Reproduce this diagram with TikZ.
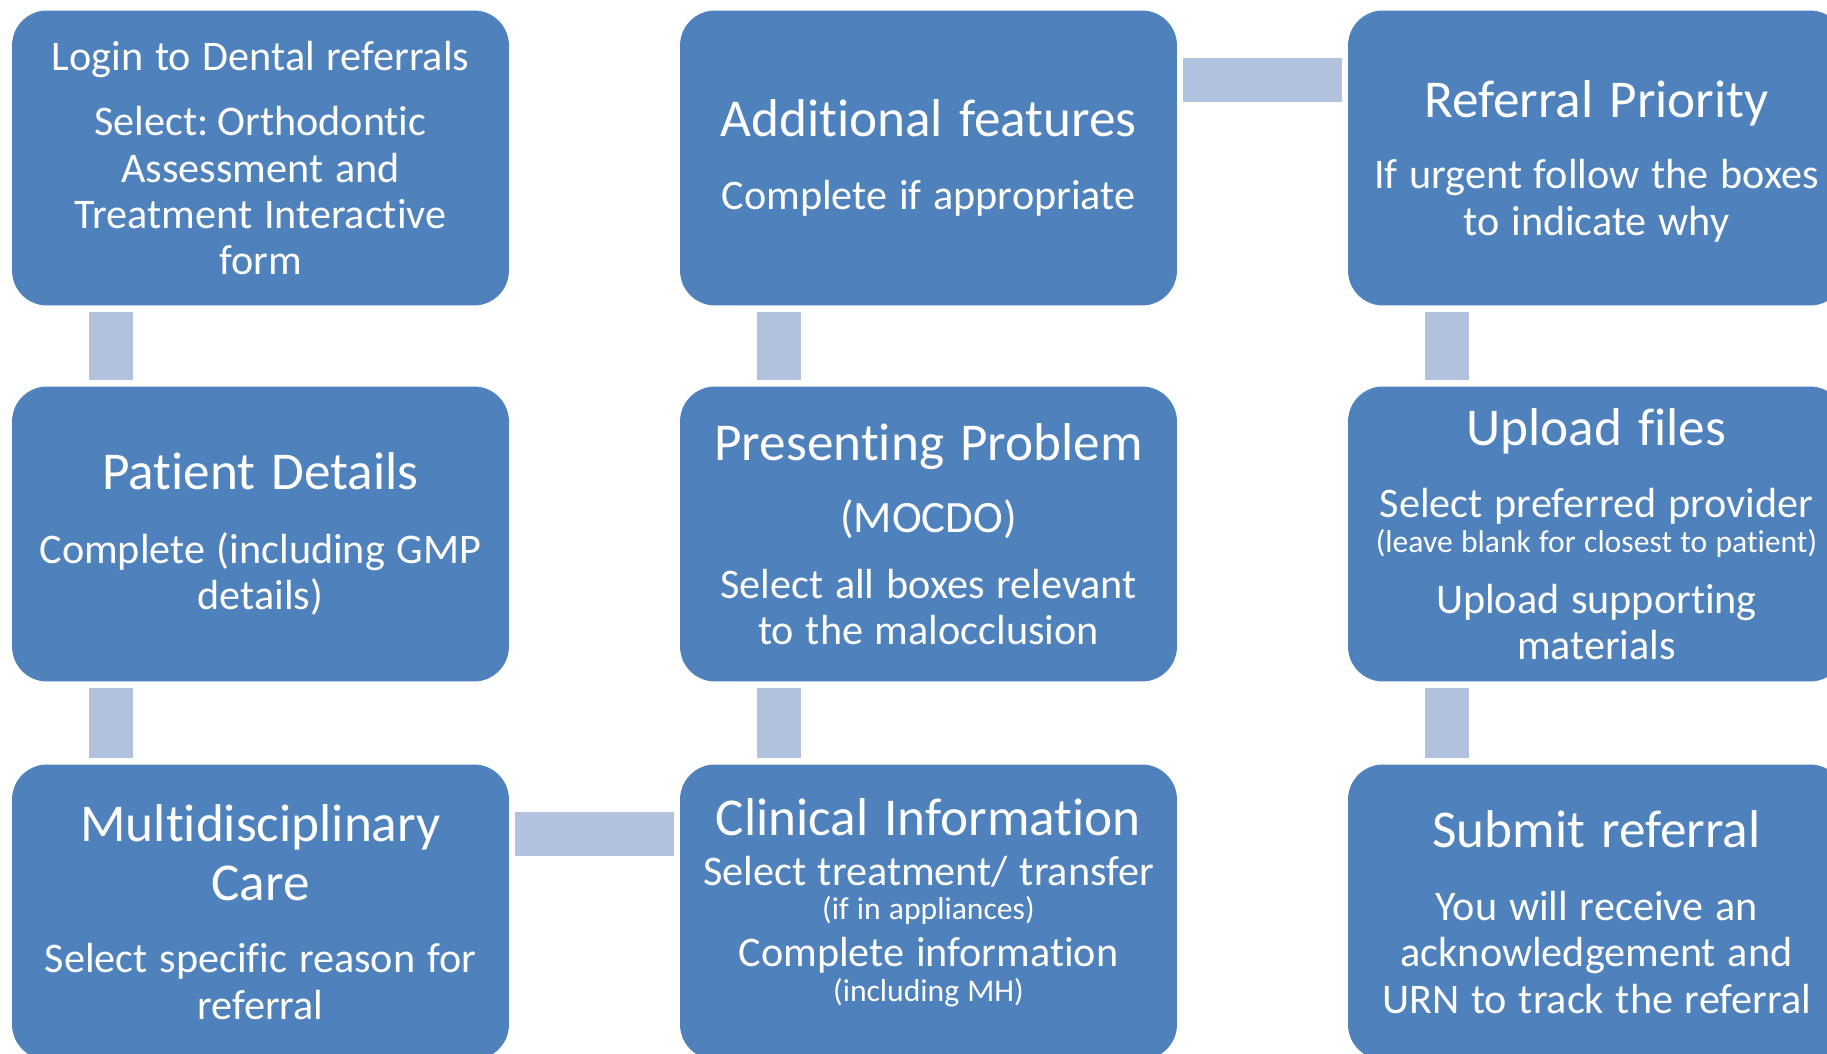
\documentclass[tikz,border=0pt]{standalone}
\usepackage{fontspec}
\setmainfont{Carlito}[RawFeature={-liga;-clig;-calt}]
\definecolor{boxblue}{HTML}{4F81BD}
\definecolor{linkblue}{HTML}{B2C1DD}
\newcommand{\boxtitle}[1]{{\fontsize{30.3}{33.3}\selectfont\spaceskip=0.3em\relax #1\par}}
\newcommand{\boxbody}[1]{{\fontsize{24}{26.4}\selectfont\spaceskip=0.28em\relax #1\par}}
\newcommand{\boxnote}[1]{{\fontsize{18}{19.8}\selectfont\spaceskip=0.26em\relax #1\par}}
\begin{document}
\begin{tikzpicture}[x=0.02cm,y=-0.02cm]
    \tikzset{stepbox/.style={rectangle,rounded corners=0.7cm,fill=boxblue,text=white,
        minimum width=9.94cm,minimum height=5.9cm,inner sep=0pt,text width=9.6cm,align=center},
        link/.style={draw=linkblue,line width=0.88cm,shorten >=0.12cm,shorten <=0.12cm}};
    \useasboundingbox (0,0) rectangle (1827,1054);
    \clip (0,0) rectangle (1827,1054);
    % first column
    \node[stepbox] (login) at (260.5,158) {\boxbody{Login to Dental referrals}\vspace{11pt}
        \boxbody{Select: Orthodontic\\Assessment and\\Treatment Interactive\\form}};
    \node[stepbox] (patient) at (260.5,534) {\boxtitle{Patient Details}\vspace{16pt}
        \boxbody{Complete (including GMP\\details)}};
    \node[stepbox] (multi) at (260.5,912) {\boxtitle{Multidisciplinary\\Care}\vspace{15pt}
        \boxbody{Select specific reason for\\referral}};
    % second column
    \node[stepbox] (clinical) at (928.5,912) {\boxtitle{Clinical Information}\vspace{2pt}
        \boxbody{Select treatment/ transfer}\boxnote{(if in appliances)}
        \boxbody{Complete information}\boxnote{(including MH)}\vspace{11pt}};
    \node[stepbox] (problem) at (928.5,534) {\boxtitle{Presenting Problem}\vspace{13pt}
        {\fontsize{25.5}{28}\selectfont (MOCDO)\par}\vspace{11pt}
        \boxbody{Select all boxes relevant\\to the malocclusion}};
    \node[stepbox] (extra) at (928.5,158) {\boxtitle{Additional features}\vspace{15pt}
        \boxbody{Complete if appropriate}};
    % third column
    \node[stepbox] (priority) at (1596.5,158) {\boxtitle{Referral Priority}\vspace{14pt}
        \boxbody{If urgent follow the boxes\\to indicate why}\vspace{-4pt}};
    \node[stepbox] (upload) at (1596.5,534) {\boxtitle{Upload files}\vspace{15pt}
        \boxbody{Select preferred provider}\boxnote{(leave blank for closest to patient)}\vspace{8pt}
        \boxbody{Upload supporting\\materials}};
    \node[stepbox] (submit) at (1596.5,912) {\boxtitle{Submit referral}\vspace{15pt}
        \boxbody{You will receive an\\acknowledgement and\\URN to track the referral}};
    % connectors
    \draw[link] ([xshift=1.98cm]login.south west) -- ([xshift=1.98cm]patient.north west);
    \draw[link] ([xshift=1.98cm]patient.south west) -- ([xshift=1.98cm]multi.north west);
    \draw[link] ([yshift=-1.39cm]multi.north east) -- ([yshift=-1.39cm]clinical.north west);
    \draw[link] ([xshift=1.98cm]clinical.north west) -- ([xshift=1.98cm]problem.south west);
    \draw[link] ([xshift=1.98cm]problem.north west) -- ([xshift=1.98cm]extra.south west);
    \draw[link] ([yshift=-1.39cm]extra.north east) -- ([yshift=-1.39cm]priority.north west);
    \draw[link] ([xshift=1.98cm]priority.south west) -- ([xshift=1.98cm]upload.north west);
    \draw[link] ([xshift=1.98cm]upload.south west) -- ([xshift=1.98cm]submit.north west);
\end{tikzpicture}
\end{document}
